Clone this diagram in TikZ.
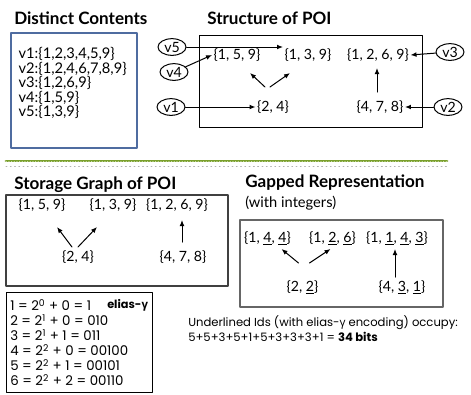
\documentclass[tikz,border=0pt]{standalone}
\usepackage{fontspec}
\setmainfont{Lato}
\newfontfamily\gothic{Poppins}
\newfontfamily\grk{Open Sans}
\usetikzlibrary{arrows.meta,calc,shapes.geometric}
\definecolor{boxblue}{RGB}{79,108,160}
\definecolor{sepgreen}{RGB}{122,160,44}
\newcommand{\gapul}[1]{\underline{#1}}
\tikzset{
  every picture/.append style={line cap=round,line join=round},
  poi title/.style={font=\fontsize{12.8}{14}\selectfont\bfseries,anchor=west,inner sep=0pt},
  poi set/.style={font=\fontsize{10.6}{12}\selectfont,inner sep=1pt},
  poi box/.style={draw,line width=0.75pt},
  poi vertex/.style={ellipse,draw,line width=0.75pt,minimum width=21pt,minimum height=12.5pt,inner sep=0pt,font=\fontsize{10.6}{12}\selectfont},
  poi arrow/.style={line width=0.75pt,-{Latex[length=4.5pt,width=3.6pt]}},
  gamma code/.style={font=\gothic\fontsize{8.7}{11.25}\selectfont,align=left,anchor=west,inner sep=0pt}
}

\begin{document}
\begin{tikzpicture}[x=0.75pt, y=-0.75pt]
  \useasboundingbox (0,0) rectangle (471,394);

  % distinct contents
  \node[poi title] (distinct) at (14,18) {Distinct Contents};
  \draw[draw=boxblue, line width=1.5pt] (11,33) rectangle (137,148);
  \node[poi set, align=left, anchor=west, font=\fontsize{11}{10.9}\selectfont] (contents) at (17,83)
    {v1:\{1,2,3,4,5,9\}\\v2:\{1,2,4,6,7,8,9\}\\v3:\{1,2,6,9\}\\v4:\{1,5,9\}\\v5:\{1,3,9\}};

  % structure of POI
  \node[poi title] (structure) at (207,18) {Structure of POI};
  \draw[poi box] (199,35) rectangle (422,127);
  \node[poi set] (a159) at (237,55) {\{1, 5, 9\}};
  \node[poi set] (a139) at (308,55) {\{1, 3, 9\}};
  \node[poi set] (a1269) at (378,55) {\{1, 2, 6, 9\}};
  \node[poi set] (a24) at (273,107) {\{2, 4\}};
  \node[poi set] (a478) at (380,107) {\{4, 7, 8\}};
  \node[poi vertex] (v5) at (172,47) {v5};
  \node[poi vertex] (v4) at (174,72) {v4};
  \node[poi vertex] (v1) at (171,107) {v1};
  \node[poi vertex] (v3) at (450,52) {v3};
  \node[poi vertex] (v2) at (448,107) {v2};
  \draw[poi arrow] (v5.east) -- (v5.east -| a139.west);
  \draw[poi arrow] (v4) -- (a159.west);
  \draw[poi arrow] (v1) -- (a24);
  \draw[poi arrow] (v3) -- (a1269.east);
  \draw[poi arrow] (v2) -- (a478);
  \draw[poi arrow] ($(a24)+(-8,-20)$) -- ($(a159)+(13,18)$);
  \draw[poi arrow] ($(a24)+(-3,-20)$) -- ($(a139)+(-18,18)$);
  \draw[poi arrow] ($(a478)+(-3,-15)$) -- ($(a1269)+(-1,13)$);

  % separator
  \draw[line width=2.2pt, draw=sepgreen] (6,161) -- (447,161);
  \draw[line width=0.5pt, draw=sepgreen!40, dash pattern=on 0.4pt off 1.6pt] (6,161) -- (447,161);
  \draw[line width=0.75pt, draw=black!30, dash pattern=on 0.6pt off 2.6pt] (6,166) -- (447,166);

  % storage graph
  \node[poi title] (storage) at (14,185) {Storage Graph of POI};
  \draw[poi box, draw=black!75, line width=1.1pt] (6,195) rectangle (228,286);
  \node[poi set] (b159) at (42,205) {\{1, 5, 9\}};
  \node[poi set] (b139) at (113,205) {\{1, 3, 9\}};
  \node[poi set] (b1269) at (177,205) {\{1, 2, 6, 9\}};
  \node[poi set] (b24) at (78,257) {\{2, 4\}};
  \node[poi set] (b478) at (183,257) {\{4, 7, 8\}};
  \draw[poi arrow] ($(b24)+(-6,-10)$) -- ($(b159)+(15,22)$);
  \draw[poi arrow] ($(b24)+(0,-10)$) -- ($(b139)+(-16,22)$);
  \draw[poi arrow] ($(b478)+(-1,-15)$) -- ($(b1269)+(5,15)$);

  % gapped representation
  \node[poi title] (gapped) at (245,183) {Gapped Representation};
  \node[anchor=west, inner sep=0pt, font=\fontsize{11}{12}\selectfont] (integers) at (245,203) {(with integers)};
  \draw[poi box, draw=black!60, line width=1.1pt] (240,220) rectangle (443,307);
  \node[poi set] (c144) at (267.5,238) {\{1, \gapul{4}, \gapul{4}\}};
  \node[poi set] (c126) at (332.5,238) {\{1, \gapul{2}, \gapul{6}\}};
  \node[poi set] (c1143) at (397,238) {\{1, \gapul{1}, \gapul{4}, \gapul{3}\}};
  \node[poi set] (c22) at (302.5,287) {\{2, \gapul{2}\}};
  \node[poi set] (c431) at (402,287) {\{4, \gapul{3}, \gapul{1}\}};
  \draw[poi arrow] ($(c22)+(-4,-24)$) -- ($(c144)+(14,11)$);
  \draw[poi arrow] ($(c22)+(7,-24)$) -- ($(c126)+(-2,11)$);
  \draw[poi arrow] ($(c431)+(-7,-10)$) -- ($(c1143)+(-2,11)$);

  % elias-gamma codes
  \draw[poi box] (6,292) rectangle (152,392);
  \node[gamma code, font=\gothic\fontsize{10}{11.25}\selectfont] (codes) at (10,342.5)
    {1 = 2\textsuperscript{0} + 0 = 1\\
     2 = 2\textsuperscript{1} + 0 = 010\\
     3 = 2\textsuperscript{1} + 1 = 011\\
     4 = 2\textsuperscript{2} + 0 = 00100\\
     5 = 2\textsuperscript{2} + 1 = 00101\\
     6 = 2\textsuperscript{2} + 2 = 00110};
  \node[gamma code, font=\gothic\bfseries\fontsize{8.5}{10}\selectfont] (elias) at (107,305) {elias-{\grk γ}};
  \node[gamma code] (occupy) at (188,328.5)
    {Underlined Ids (with elias-{\grk γ} encoding) occupy:\\
     5+5+3+5+1+5+3+3+3+1 = \textbf{34 bits}};
\end{tikzpicture}
\end{document}
